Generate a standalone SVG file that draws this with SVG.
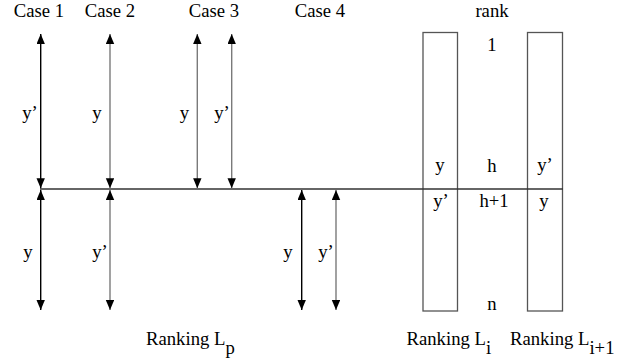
<svg xmlns="http://www.w3.org/2000/svg" width="639" height="364" viewBox="0 0 639 364">
<style>
text{font-family:'Liberation Serif','DejaVu Serif',serif;font-size:18.7px;fill:#000}
.m{text-anchor:middle}
.blk{stroke:#000;stroke-width:1.4;fill:none}
.gry{stroke:#7a7a7a;stroke-width:1.4;fill:none}
.box{fill:none;stroke:#555;stroke-width:1.3}
.axis{stroke:#333;stroke-width:1.3}
</style>
<defs>
<marker id="ah" markerUnits="userSpaceOnUse" markerWidth="11" markerHeight="9" refX="10" refY="4.2" orient="auto-start-reverse" viewBox="0 0 11 9">
<path d="M0,0 L10,4.2 L0,8.4 z" fill="#000"/>
</marker>
</defs>
<g font-family="'Liberation Serif', serif">
<g id="headers">
<text class="m" x="39" y="17">Case 1</text>
<text class="m" x="110" y="17">Case 2</text>
<text class="m" x="214" y="17">Case 3</text>
<text class="m" x="320" y="17">Case 4</text>
<text class="m" x="492" y="17">rank</text>
</g>
<g id="ranking-Li">
<rect class="box" x="423" y="32.5" width="34.5" height="278.5"/>
<text class="m" x="440" y="171">y</text>
<text class="m" x="441" y="207">y’</text>
<text x="406.5" y="345">Ranking L<tspan dy="9">i</tspan></text>
</g>
<g id="ranking-Li1">
<rect class="box" x="527.5" y="32.5" width="35" height="278.5"/>
<text class="m" x="545" y="171">y’</text>
<text class="m" x="544" y="207">y</text>
<text x="510" y="345">Ranking L<tspan dy="9">i+1</tspan></text>
</g>
<g id="rank-labels">
<text class="m" x="492" y="51">1</text>
<text class="m" x="492" y="172">h</text>
<text class="m" x="494" y="207">h+1</text>
<text class="m" x="492" y="310">n</text>
</g>
<g id="ranking-Lp">
<text x="146" y="345">Ranking L<tspan dy="9">p</tspan></text>
</g>
<g id="connectors">
<line class="axis" x1="40" y1="189" x2="563" y2="189"/>
<line class="blk" x1="40.7" y1="34" x2="40.7" y2="188.3" marker-start="url(#ah)" marker-end="url(#ah)"/>
<line class="blk" x1="40.7" y1="190" x2="40.7" y2="310" marker-start="url(#ah)" marker-end="url(#ah)"/>
<line class="gry" x1="110" y1="34" x2="110" y2="188.3" marker-start="url(#ah)" marker-end="url(#ah)"/>
<line class="gry" x1="110" y1="190" x2="110" y2="310" marker-start="url(#ah)" marker-end="url(#ah)"/>
<line class="gry" x1="197.3" y1="34" x2="197.3" y2="188.3" marker-start="url(#ah)" marker-end="url(#ah)"/>
<line class="gry" x1="231.7" y1="34" x2="231.7" y2="188.3" marker-start="url(#ah)" marker-end="url(#ah)"/>
<line class="blk" x1="301.7" y1="190" x2="301.7" y2="310" marker-start="url(#ah)" marker-end="url(#ah)"/>
<line class="gry" x1="336" y1="190" x2="336" y2="310" marker-start="url(#ah)" marker-end="url(#ah)"/>
</g>
<g id="arrow-labels">
<text class="m" x="30" y="119">y’</text>
<text class="m" x="97" y="119">y</text>
<text class="m" x="184.5" y="119">y</text>
<text class="m" x="222" y="119">y’</text>
<text class="m" x="28" y="258">y</text>
<text class="m" x="100" y="258">y’</text>
<text class="m" x="288" y="258">y</text>
<text class="m" x="326" y="258">y’</text>
</g>
</g>
</svg>
